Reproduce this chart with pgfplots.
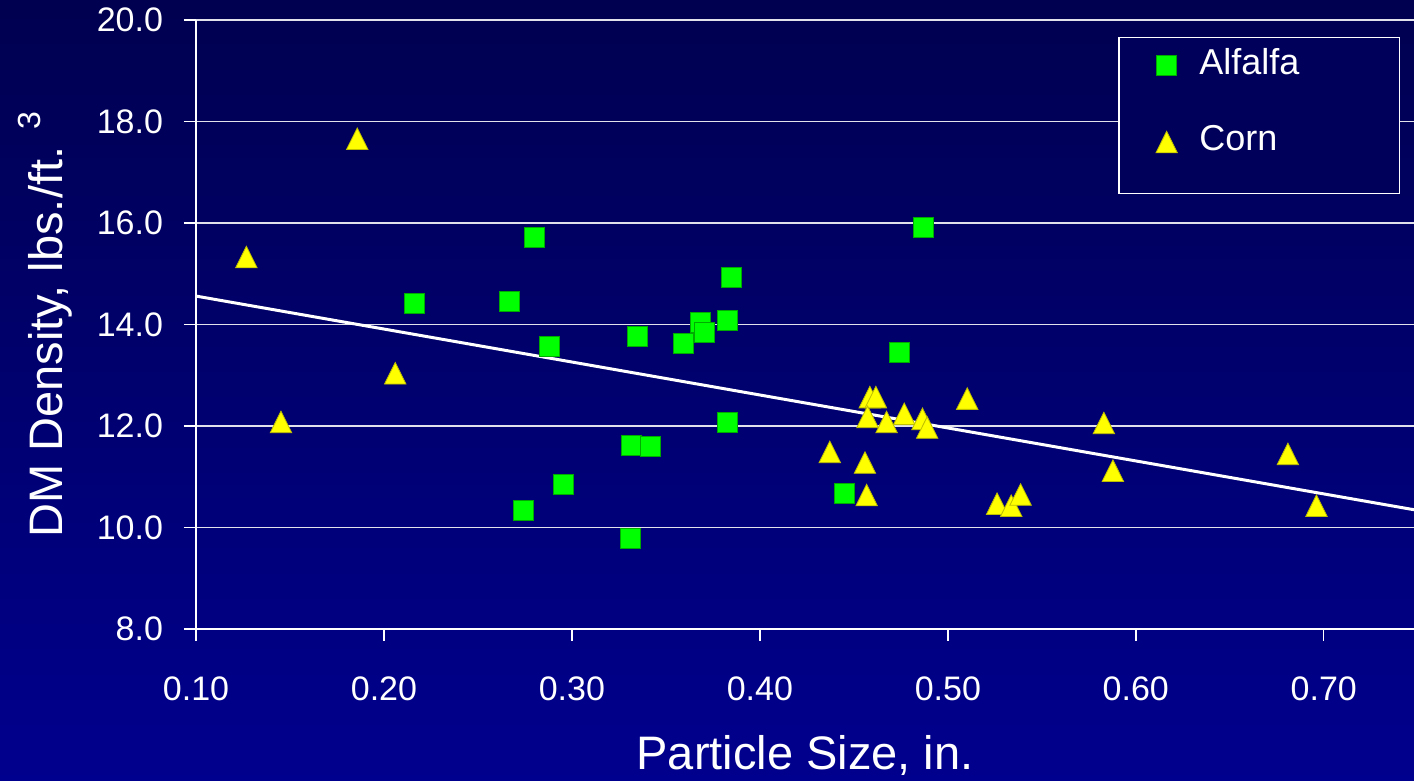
\documentclass[border=0pt]{standalone}
\usepackage{fontspec}
\setmainfont{Liberation Sans}
\usepackage{pgfplots}
\pgfplotsset{compat=1.18}
\definecolor{bgtop}{RGB}{0,0,80}
\definecolor{bgbot}{RGB}{0,0,142}
\definecolor{legbg}{RGB}{0,0,90}
\definecolor{sqfill}{RGB}{0,255,0}
\definecolor{sqedge}{RGB}{0,170,0}
\definecolor{trfill}{RGB}{255,255,0}
\definecolor{tredge}{RGB}{190,190,0}
\definecolor{gridc}{RGB}{225,225,235}
\begin{document}
\begin{tikzpicture}
\shade[top color=bgtop, bottom color=bgbot] (-98pt,-76pt) rectangle (609pt,314.5pt);
\begin{axis}[
  scale only axis,
  width=609pt, height=304.5pt,
  xmin=0.10, xmax=0.748,
  ymin=8, ymax=20,
  axis x line*=bottom, axis y line*=left,
  axis line style={white, line width=1pt},
  xtick={0.1,0.2,0.3,0.4,0.5,0.6,0.7},
  ytick={8,10,12,14,16,18,20},
  tick align=outside,
  major tick length=6pt,
  tick style={white, line width=0.7pt},
  ymajorgrids,
  major grid style={gridc, line width=0.7pt},
  tick label style={font=\fontsize{17}{17}\selectfont, text=white},
  xticklabel style={yshift=-14.5pt, /pgf/number format/.cd, fixed, fixed zerofill, precision=2, assume math mode=true},
  yticklabel style={xshift=-7pt, /pgf/number format/.cd, fixed, fixed zerofill, precision=1, assume math mode=true},
  every axis x label/.style={at={(axis description cs:0.5,-0.2315)}, anchor=base, font=\fontsize{23.5}{23.5}\selectfont, text=white},
  every axis y label/.style={at={(axis description cs:-0.1092,0.5)}, rotate=90, anchor=base, font=\fontsize{23.5}{23.5}\selectfont, text=white},
  xlabel={Particle Size, in.},
  ylabel={DM Density, lbs./ft. \raisebox{11pt}{\fontsize{16}{16}\selectfont 3}},
  legend image code/.code={\draw[#1] plot coordinates {(0pt,6pt)};},
  legend style={at={(rel axis cs:0.9885,0.972)}, anchor=north east,
    draw=white, line width=0.6pt, fill=legbg, text=white,
    font=\fontsize{18}{18}\selectfont,
    inner xsep=18.5pt, inner ysep=3.5pt, row sep=5.75pt,
    nodes={text depth=15.75pt},
    /tikz/every odd column/.append style={column sep=9pt}},
  legend cell align=left,
]
\addplot[only marks, mark=square*, mark size=5pt,
  mark options={fill=sqfill, draw=sqedge, line width=0.4pt}] coordinates {
(0.2161,14.41) (0.2670,14.46) (0.2799,15.72) (0.2879,13.56) (0.2743,10.33)
(0.2954,10.84) (0.3349,13.77) (0.3318,11.62) (0.3415,11.59) (0.3309,9.79)
(0.3592,13.63) (0.3681,14.05) (0.3704,13.84) (0.3826,14.08) (0.3851,14.92)
(0.3826,12.07) (0.4452,10.67) (0.4741,13.45) (0.4871,15.91)
};
\addlegendentry{\makebox[79.5pt][l]{Alfalfa}}
\addplot[only marks, mark=triangle*, mark size=6.2pt,
  mark options={yshift=-1.8pt, yscale=1.16, fill=trfill, draw=tredge, line width=0.4pt}] coordinates {
(0.1268,15.33) (0.1452,12.08) (0.1858,17.66) (0.2060,13.04) (0.4372,11.49)
(0.4559,11.28) (0.4568,10.64) (0.4585,12.57) (0.4617,12.57) (0.4573,12.18)
(0.4674,12.08) (0.4768,12.24) (0.4865,12.14) (0.4890,11.97) (0.5103,12.54)
(0.5262,10.47) (0.5337,10.43) (0.5387,10.65) (0.5830,12.06) (0.5878,11.12)
(0.6809,11.45) (0.6961,10.43)
};
\addlegendentry{\makebox[79.5pt][l]{Corn}}
\addplot[white, line width=1.5pt, no marks, forget plot] coordinates {(0.10,14.56) (0.748,10.35)};
\end{axis}
\pgfresetboundingbox
\useasboundingbox (-98pt,-76pt) rectangle (609pt,314.5pt);
\end{tikzpicture}
\end{document}
